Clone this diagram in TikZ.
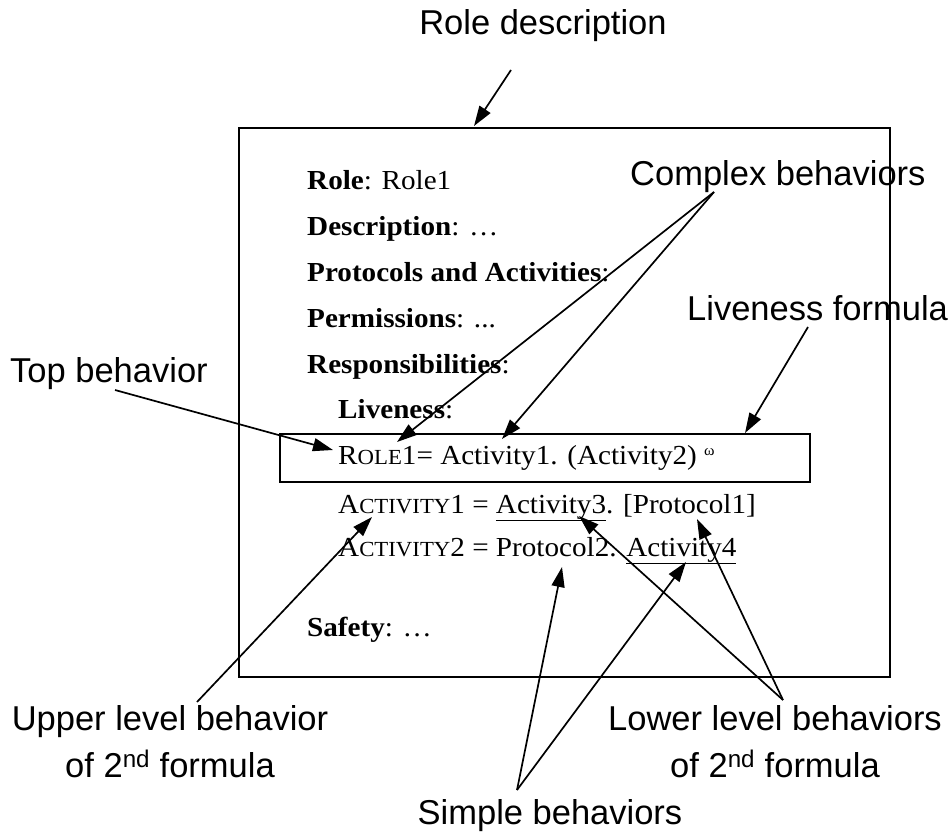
\documentclass[tikz,border=0pt]{standalone}
\usepackage{fontspec}
\setmainfont{Liberation Serif}[FakeStretch=1.06]
\newfontfamily\labelfont{Liberation Sans}
\usetikzlibrary{arrows.meta}
% reduced-size capitals for the role formulas
\newcommand\lowcaps[1]{{\fontsize{21.5}{24}\selectfont #1}}
\begin{document}
\begin{tikzpicture}[x=1pt,y=-1pt,
  callout/.style={font=\labelfont\fontsize{34.5}{47}\selectfont, inner sep=0pt, align=center},
  roletext/.style={font=\fontsize{27.5}{30}\selectfont, anchor=base west, inner sep=0pt},
  pointer/.style={line width=1.7pt, -{Triangle[length=20pt,width=13pt]}},
  frame/.style={draw, line width=2.4pt, inner sep=0pt, anchor=north west}]
\useasboundingbox (0,0) rectangle (950,835);

% role schema card and the highlighted liveness formula
\node[frame, minimum width=651pt, minimum height=549pt] (card) at (238,127) {};
\node[frame, line width=2pt, minimum width=530pt, minimum height=48pt] (formula) at (279,433) {};

% schema text
\node[roletext] (role) at (307,189) {\textbf{Role}: Role1};
\node[roletext] (desc) at (307,235) {\textbf{Description}: …};
\node[roletext] (prot) at (307,281) {\textbf{Protocols and Activities}:};
\node[roletext] (perm) at (307,327) {\textbf{Permissions}: ...};
\node[roletext] (resp) at (307,373) {\textbf{Responsibilities}:};
\node[roletext] (live) at (338,418) {\textbf{Liveness}:};
\node[roletext] (f1) at (338,464) {R\lowcaps{OLE}1= Activity1. (Activity2) {\fontsize{15}{16}\selectfont\raisebox{9pt}{ω}}};
\node[roletext] (f2) at (338,513) {A\lowcaps{CTIVITY}1 = \underline{Activity3}. [Protocol1]};
\node[roletext] (f3) at (338,556) {A\lowcaps{CTIVITY}2 = Protocol2. \underline{Activity4}};
\node[roletext] (safe) at (307,636) {\textbf{Safety}: …};

% callout labels
\node[callout, anchor=base] (roledesc) at (543,34) {Role description};
\node[callout, anchor=base west] (complex) at (630,185) {Complex behaviors};
\node[callout, anchor=base west] (livform) at (687,320) {Liveness formula};
\node[callout, anchor=base west] (topbeh) at (10,382) {Top behavior};
\node[callout, anchor=base] (upper) at (170,777) {Upper level behavior\\of 2\textsuperscript{nd} formula};
\node[callout, anchor=base] (lower) at (775,777) {Lower level behaviors\\of 2\textsuperscript{nd} formula};
\node[callout, anchor=base] (simple) at (550,824) {Simple behaviors};

% connector end points
\coordinate (rdFrom) at (511,70);   \coordinate (rdTip) at (474,126);
\coordinate (topFrom) at (115,390); \coordinate (topTip) at (333,450);
\coordinate (cxFrom) at (714,192);  \coordinate (cxTipA) at (397,442);
\coordinate (cxTipB) at (502,439);
\coordinate (lvFrom) at (808,327);  \coordinate (lvTip) at (745,433);
\coordinate (upFrom) at (197,702);  \coordinate (upTip) at (372,517);
\coordinate (smFrom) at (517,790);  \coordinate (smTipA) at (562,567);
\coordinate (smTipB) at (686,562);
\coordinate (lwFrom) at (783,700);  \coordinate (lwTipA) at (579,516);
\coordinate (lwTipB) at (697,519);

% connectors
\draw[pointer] (rdFrom) -- (rdTip);
\draw[pointer] (topFrom) -- (topTip);
\draw[pointer] (cxFrom) -- (cxTipA);
\draw[pointer] (cxFrom) -- (cxTipB);
\draw[pointer] (lvFrom) -- (lvTip);
\draw[pointer] (upFrom) -- (upTip);
\draw[pointer] (smFrom) -- (smTipA);
\draw[pointer] (smFrom) -- (smTipB);
\draw[pointer] (lwFrom) -- (lwTipA);
\draw[pointer] (lwFrom) -- (lwTipB);
\end{tikzpicture}
\end{document}
